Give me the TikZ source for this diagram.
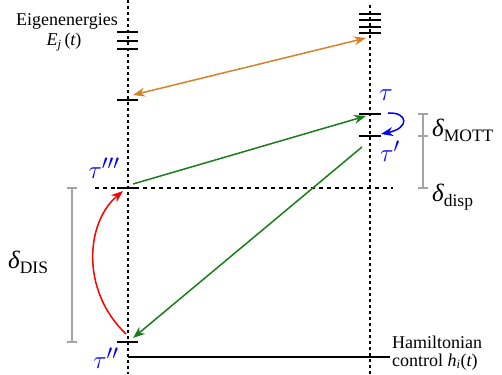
\documentclass[tikz,border=0pt]{standalone}
\usepackage{fontspec}
\setmainfont{Liberation Serif}
\usetikzlibrary{arrows.meta}
\definecolor{orng}{RGB}{214,130,40}
\definecolor{grn}{RGB}{25,125,25}
\definecolor{gbarc}{RGB}{165,165,165}
\newcommand{\dlt}[1]{{\fontsize{25}{27}\selectfont\itshape δ}{\fontsize{17.5}{19}\selectfont\raisebox{-5pt}{#1}}}
\begin{document}
\begin{tikzpicture}[x=1pt,y=-1pt,
 vline/.style={line width=2pt, dash pattern=on 3pt off 3pt},
 hdash/.style={line width=1.6pt, dash pattern=on 4pt off 4pt},
 lvl/.style={line width=1.6pt},
 arr/.style={line width=1.5pt,-{Stealth[length=12pt,width=9pt]}},
 gbar/.style={gbarc, line width=1.4pt},
 lbl/.style={font=\fontsize{18}{19}\selectfont, inner sep=0pt},
 tlbl/.style={text=blue, font=\fontsize{28}{30}\selectfont, inner sep=0pt},
 dlbl/.style={inner sep=0pt}]
\useasboundingbox (0,0) rectangle (502,374);
% axes
\coordinate (Lt) at (128,0); \coordinate (Lb) at (128,374);
\coordinate (Rt) at (370,5); \coordinate (Rb) at (370,374);
\draw[vline] (Lt) -- (Lb);
\draw[vline] (Rt) -- (Rb);
% dashed horizontal
\coordinate (Hd1) at (95,188); \coordinate (Hd2) at (393,188);
\draw[hdash] (Hd1) -- (Hd2);
% hamiltonian line
\coordinate (Hm1) at (128,357); \coordinate (Hm2) at (390,357);
\draw[line width=1.5pt] (Hm1) -- (Hm2);
% left levels
\foreach \y/\n in {32/L1,41/L2,49/L3,100/L4,188/L5,342/L6}{
  \coordinate (\n) at (128,\y);
  \draw[lvl] ([xshift=-11pt]\n) -- ([xshift=10pt]\n);
}
% right levels
\foreach \y/\n in {14/R1,20/R2,27/R3,33/R4,114/R5,136/R6}{
  \coordinate (\n) at (370,\y);
  \draw[lvl] ([xshift=-11pt]\n) -- ([xshift=11pt]\n);
}
% labels
\node[lbl, anchor=base] (eig) at (67,26) {Eigenenergies};
\node[lbl, anchor=base] (ej) at (64,46) {{\itshape E}\textsubscript{\itshape j}\,({\itshape t})};
\node[lbl, anchor=base west, align=left] (ham) at (392,348) {Hamiltonian};
\node[lbl, anchor=base west] (ctl) at (392,366) {control {\itshape h}\textsubscript{\itshape i}({\itshape t})};
% tau labels
\node[tlbl] (tau) at (386,95) {$\tau$};
\node[tlbl] (taup) at (390,151) {$\tau'$};
\node[tlbl] (tauppp) at (104,168) {$\tau'''$};
\node[tlbl] (taupp) at (106,358) {$\tau''$};
% delta labels
\node[dlbl, anchor=base west] (dD) at (8,268) {\dlt{DIS}};
\node[dlbl, anchor=base west] (dM) at (432,136) {\dlt{MOTT}};
\node[dlbl, anchor=base west] (dd) at (432,201) {\dlt{disp}};
% grey bars
\coordinate (G1) at (72,188); \coordinate (G2) at (72,342);
\draw[gbar] (G1) -- (G2);
\draw[gbar] ([xshift=-5pt]G1) -- ([xshift=5pt]G1);
\draw[gbar] ([xshift=-5pt]G2) -- ([xshift=5pt]G2);
\coordinate (G3) at (423,114); \coordinate (G4) at (423,136); \coordinate (G5) at (423,188);
\draw[gbar] (G3) -- (G5);
\foreach \g in {G3,G4,G5}{\draw[gbar] ([xshift=-5pt]\g) -- ([xshift=5pt]\g);}
% arrows
\coordinate (Oa) at (133,95); \coordinate (Ob) at (366,38);
\draw[orng, line width=1.5pt, {Stealth[length=12pt,width=9pt]}-{Stealth[length=12pt,width=9pt]}] (Oa) -- (Ob);
\coordinate (Ga) at (133,184); \coordinate (Gb) at (366,116);
\draw[arr, grn] (Ga) -- (Gb);
\coordinate (Gc) at (362,147); \coordinate (Gd) at (133,338);
\draw[arr, grn] (Gc) -- (Gd);
\coordinate (Ra) at (126,334); \coordinate (Rb2) at (123,191);
\draw[arr, red] (Ra) .. controls (80,290) and (86,222) .. (Rb2);
\coordinate (Ba) at (388,113); \coordinate (Bb) at (381,134);
\draw[arr, blue] (Ba) .. controls (408,112) and (410,128) .. (Bb);
\end{tikzpicture}
\end{document}
